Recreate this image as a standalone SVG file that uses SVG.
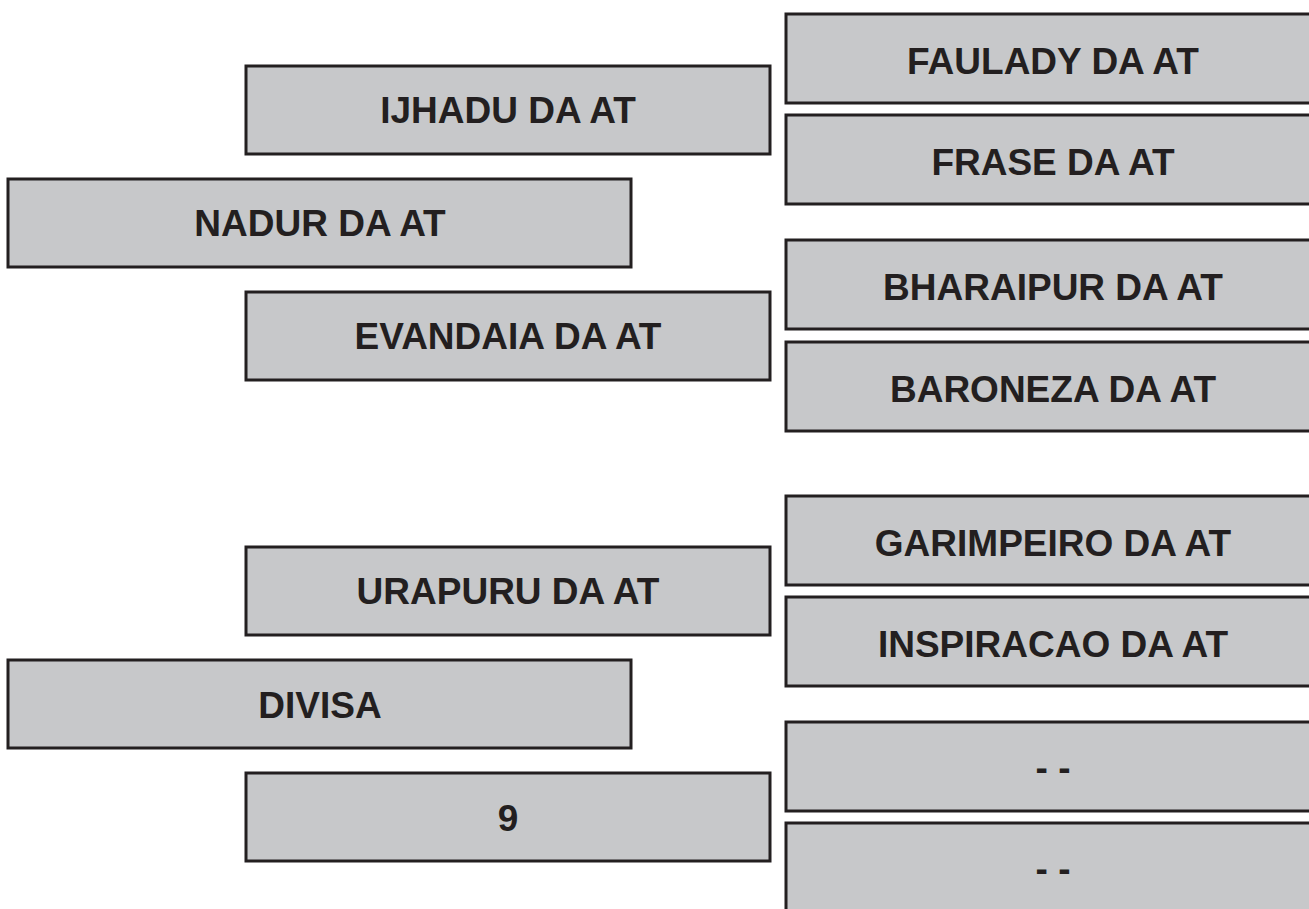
<svg xmlns="http://www.w3.org/2000/svg" width="1309" height="909" viewBox="0 0 1309 909">
<style>
.box{fill:#c7c8ca;stroke:#231f20;stroke-width:3}
.lbl{font-family:"Liberation Sans",Arial,sans-serif;font-weight:bold;font-size:37px;fill:#231f20;text-anchor:middle}
</style>
<rect width="1309" height="909" fill="#ffffff"/>
<g id="connectors"></g>
<g id="n-ijhadu"><rect class="box" x="246" y="66" width="524" height="88"/><text class="lbl" x="508" y="123">IJHADU DA AT</text></g>
<g id="n-nadur"><rect class="box" x="8" y="179" width="623" height="88"/><text class="lbl" x="320" y="236">NADUR DA AT</text></g>
<g id="n-evandaia"><rect class="box" x="246" y="292" width="524" height="88"/><text class="lbl" x="508" y="349">EVANDAIA DA AT</text></g>
<g id="n-faulady"><rect class="box" x="786" y="14" width="534" height="89"/><text class="lbl" x="1053" y="74">FAULADY DA AT</text></g>
<g id="n-frase"><rect class="box" x="786" y="115" width="534" height="89"/><text class="lbl" x="1053" y="175">FRASE DA AT</text></g>
<g id="n-bharaipur"><rect class="box" x="786" y="240" width="534" height="89"/><text class="lbl" x="1053" y="300">BHARAIPUR DA AT</text></g>
<g id="n-baroneza"><rect class="box" x="786" y="342" width="534" height="89"/><text class="lbl" x="1053" y="402">BARONEZA DA AT</text></g>
<g id="n-urapuru"><rect class="box" x="246" y="547" width="524" height="88"/><text class="lbl" x="508" y="604">URAPURU DA AT</text></g>
<g id="n-divisa"><rect class="box" x="8" y="660" width="623" height="88"/><text class="lbl" x="320" y="718">DIVISA</text></g>
<g id="n-9"><rect class="box" x="246" y="773" width="524" height="88"/><text class="lbl" x="508" y="831">9</text></g>
<g id="n-garimpeiro"><rect class="box" x="786" y="496" width="534" height="89"/><text class="lbl" x="1053" y="556">GARIMPEIRO DA AT</text></g>
<g id="n-inspiracao"><rect class="box" x="786" y="597" width="534" height="89"/><text class="lbl" x="1053" y="657">INSPIRACAO DA AT</text></g>
<g id="n-dash1"><rect class="box" x="786" y="722" width="534" height="89"/><text class="lbl" x="1053" y="780">- -</text></g>
<g id="n-dash2"><rect class="box" x="786" y="823" width="534" height="89"/><text class="lbl" x="1053" y="881">- -</text></g>
</svg>
